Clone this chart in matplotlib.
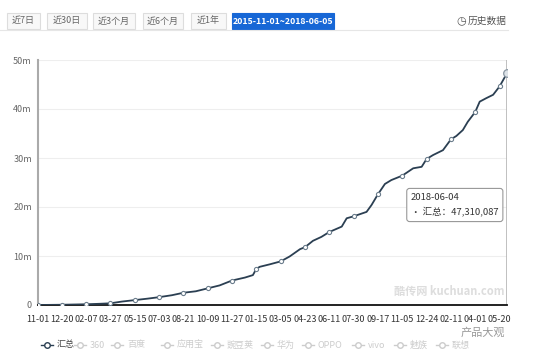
import matplotlib
matplotlib.use("Agg")
import numpy as np
from matplotlib import pyplot as plt
from matplotlib.lines import Line2D
from matplotlib.ticker import FuncFormatter

plt.rcParams['font.family'] = ['Noto Sans CJK SC', 'DejaVu Sans']

# days since 2015-11-01 and cumulative downloads (millions)
days = [0, 49, 98, 126, 147, 170, 196, 222, 245, 271, 294, 319, 343, 367, 392,
        418, 434, 441, 448, 468, 490, 508, 529, 539, 555, 572, 588, 613, 623,
        637, 663, 673, 686, 700, 713, 735, 757, 774, 784, 797, 817, 833, 844,
        857, 867, 882, 891, 904, 918, 931, 946]
total = [0, 0.05, 0.15, 0.25, 0.35, 0.7, 1.0, 1.3, 1.6, 2.0, 2.5, 2.8, 3.4, 4.0,
         5.0, 5.6, 6.1, 7.4, 7.8, 8.3, 8.9, 9.9, 11.4, 11.8, 13.1, 13.9, 14.9,
         16.0, 17.7, 18.1, 19.0, 20.4, 22.6, 24.7, 25.5, 26.4, 27.9, 28.2, 29.8,
         30.6, 31.6, 33.8, 34.5, 35.7, 37.4, 39.4, 41.5, 42.2, 42.9, 44.6, 47.31]

tick_days = [0, 49, 98, 147, 196, 245, 294, 343, 392, 441, 490, 539, 588, 637,
             686, 735, 784, 833, 882, 931]
tick_labels = ["11-01", "12-20", "02-07", "03-27", "05-15", "07-03", "08-21",
               "10-09", "11-27", "01-15", "03-05", "04-23", "06-11", "07-30",
               "09-17", "11-05", "12-24", "02-11", "04-01", "05-20"]

buttons = ["近7日", "近30日", "近3个月", "近6个月", "近1年"]
active_range = "2015-11-01~2018-06-05"
legend_names = ["汇总", "360", "百度", "应用宝", "豌豆荚", "华为", "OPPO", "vivo", "魅族", "联想"]

W, H = 548, 363
fig = plt.figure(figsize=(W / 100, H / 100), dpi=100)
fig.patch.set_facecolor("white")

def fx(px):
    return px / W

def fy(py):
    return 1 - py / H

ax = fig.add_axes([fx(37.5), fy(305), fx(507) - fx(37.5), fy(60) - fy(305)])

vals = np.array(total) * 1e6
marks = [i for i, d in enumerate(days) if d in tick_days]
ax.plot(days, vals, color="#2b3f52", lw=1.3, marker="o", ms=3,
        mfc="white", mec="#6b7d8c", mew=0.8, markevery=marks, zorder=3)
ax.plot(days[-1], vals[-1], marker="o", ms=5.5, mfc="#dde3e8", mec="#8a97a3",
        mew=0.9, zorder=4)
ax.axvline(days[-1], color="#b5b5b5", lw=1.2, zorder=2)

ax.set_xlim(0, 946)
ax.set_ylim(0, 50e6)
ax.set_yticks(np.arange(0, 51e6, 10e6))
ax.yaxis.set_major_formatter(FuncFormatter(lambda v, p: "0" if v == 0 else f"{int(v / 1e6)}m"))
ax.set_xticks(tick_days)
ax.set_xticklabels(tick_labels)
ax.tick_params(axis="both", length=0, labelsize=6.5)
ax.tick_params(axis="y", colors="#666666", pad=4)
ax.tick_params(axis="x", colors="#333333", pad=7)
ax.grid(axis="y", color="#eeeeee", lw=0.8)
ax.set_axisbelow(True)
for s in ["top", "right"]:
    ax.spines[s].set_visible(False)
ax.spines["left"].set_color("#aaaaaa")
ax.spines["left"].set_linewidth(1.5)
ax.spines["bottom"].set_color("#111111")
ax.spines["bottom"].set_linewidth(1.3)

ax.text(0.995, 0.03, "酷传网 kuchuan.com", transform=ax.transAxes, ha="right",
        va="bottom", fontsize=8, color="#dddddd", fontweight="bold")

# tooltip
fig.text(fx(411), fy(205), "2018-06-04\n• 汇总：47,310,087", fontsize=6.8,
         color="#333333", va="center", ha="left", linespacing=1.7,
         bbox=dict(boxstyle="round,pad=0.45,rounding_size=0.3", fc="white",
                   ec="#999999", lw=0.8))

# top range buttons
btn_x = [(7, 40), (47, 87), (93, 135), (143, 183), (191, 226)]
for (x0, x1), name in zip(btn_x, buttons):
    fig.add_artist(plt.Rectangle((fx(x0), fy(29)), fx(x1) - fx(x0), fy(13) - fy(29),
                                 transform=fig.transFigure, fc="#f8f8f8",
                                 ec="#dddddd", lw=0.8))
    fig.text(fx((x0 + x1) / 2), fy(21), name, fontsize=6.5, color="#666666",
             ha="center", va="center")
fig.add_artist(plt.Rectangle((fx(232), fy(29)), fx(334) - fx(232), fy(13) - fy(29),
                             transform=fig.transFigure, fc="#1767d6",
                             ec="#1767d6", lw=0.8))
fig.text(fx(283), fy(21), active_range, fontsize=6.3, color="white",
         ha="center", va="center", fontweight="bold")
fig.add_artist(Line2D([0, fx(508)], [fy(29.5), fy(29.5)], transform=fig.transFigure,
                      color="#e6e6e6", lw=0.8))
fig.text(fx(461), fy(21), "◷", fontsize=8, color="#555555", ha="center", va="center",
         family=["DejaVu Sans"])
fig.text(fx(468), fy(21), "历史数据", fontsize=7, color="#555555", ha="left", va="center")

# legend
leg_x = [47, 80, 117, 167, 217, 267, 308, 358, 400, 442]
for i, (lx, name) in enumerate(zip(leg_x, legend_names)):
    col = "#2b3f52" if i == 0 else "#cccccc"
    fig.add_artist(Line2D([fx(lx - 6), fx(lx), fx(lx + 6)], [fy(345)] * 3,
                          transform=fig.transFigure, color=col, lw=1.0,
                          marker="o", ms=4, mfc="white", mec=col, markevery=[1]))
    fig.text(fx(lx + 10), fy(345), name, fontsize=6.5, color=col if i else "#444444",
             ha="left", va="center")

fig.text(fx(505), fy(332.5), "产品大观", fontsize=8, color="#999999", ha="right",
         va="center")

fig.savefig("out.png", dpi=100)
